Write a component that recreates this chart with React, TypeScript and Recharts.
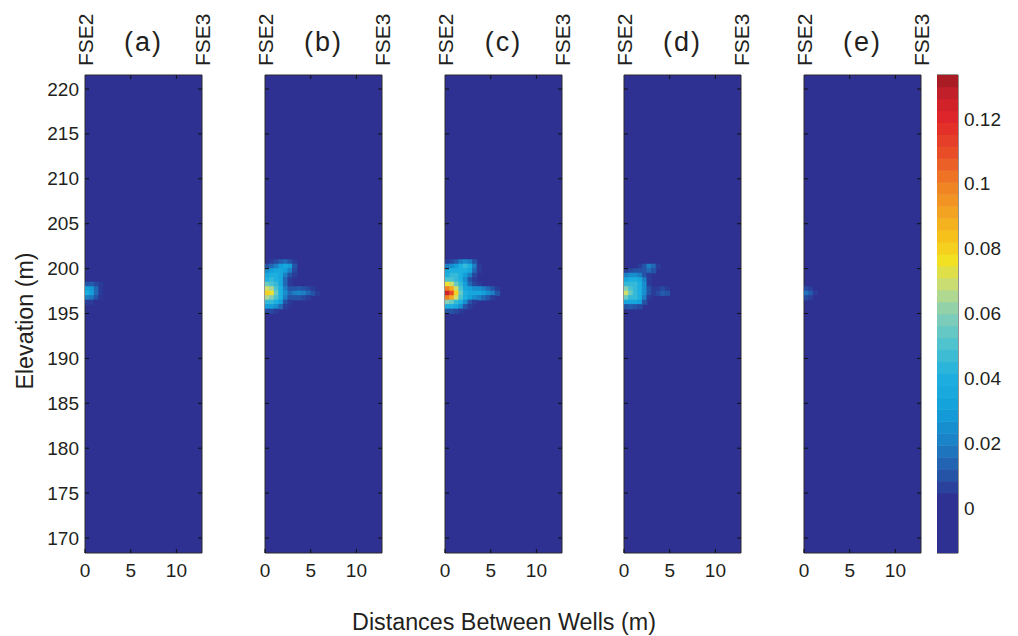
import React from 'react';
import { ScatterChart, Scatter, XAxis, YAxis, CartesianGrid, ReferenceLine } from 'recharts';

const panelNames = ['(a)', '(b)', '(c)', '(d)', '(e)'];
const wellNames = ['FSE2', 'FSE3'];
const elevationTicks = [170, 175, 180, 185, 190, 195, 200, 205, 210, 215, 220];
const distanceTicks = [0, 5, 10];
const colorTicks = [0, 0.02, 0.04, 0.06, 0.08, 0.1, 0.12];
const X_DOMAIN: [number, number] = [0, 12.8];
const Y_DOMAIN: [number, number] = [168.33, 221.56];
const C_DOMAIN: [number, number] = [-0.0138, 0.1336];
const CELL = 0.5; // grid spacing (m)

// each row: elevation of cell centre, values eastwards from x = 0.25 m in 0.5 m steps
type Row = { y: number; v: number[] };

const panelA: Row[] = [
  { y: 198.25, v: [0.01, 0.012, 0.008, 0.005] },
  { y: 197.75, v: [0.03, 0.028, 0.015, 0.005, 0.003] },
  { y: 197.25, v: [0.038, 0.03, 0.015, 0.005, 0.003] },
  { y: 196.75, v: [0.02, 0.018, 0.01, 0.004] },
  { y: 196.25, v: [0.005, 0.005, 0.003] },
];

const panelB: Row[] = [
  { y: 200.75, v: [0, 0.005, 0.008, 0.012, 0.015, 0.01, 0.005] },
  { y: 200.25, v: [0.01, 0.015, 0.02, 0.03, 0.035, 0.03, 0.01] },
  { y: 199.75, v: [0.025, 0.03, 0.035, 0.035, 0.03, 0.02, 0.008] },
  { y: 199.25, v: [0.035, 0.04, 0.04, 0.035, 0.02, 0.01, 0.005] },
  { y: 198.75, v: [0.04, 0.045, 0.04, 0.035, 0.015, 0.005] },
  { y: 198.25, v: [0.055, 0.05, 0.045, 0.035, 0.015, 0.005] },
  { y: 197.75, v: [0.07, 0.065, 0.05, 0.04, 0.02, 0.01, 0.01, 0.012, 0.01, 0.008, 0.005] },
  { y: 197.25, v: [0.08, 0.075, 0.055, 0.04, 0.025, 0.015, 0.02, 0.022, 0.02, 0.015, 0.01, 0.005] },
  { y: 196.75, v: [0.065, 0.06, 0.05, 0.04, 0.02, 0.01, 0.01, 0.01, 0.008, 0.005] },
  { y: 196.25, v: [0.045, 0.045, 0.04, 0.03, 0.01, 0.005] },
  { y: 195.75, v: [0.03, 0.03, 0.025, 0.015, 0.005] },
  { y: 195.25, v: [0.008, 0.008, 0.005] },
];

const panelC: Row[] = [
  { y: 200.75, v: [0.005, 0.008, 0.012, 0.02, 0.025, 0.02, 0.01] },
  { y: 200.25, v: [0.02, 0.025, 0.03, 0.04, 0.045, 0.04, 0.02, 0.005] },
  { y: 199.75, v: [0.035, 0.04, 0.04, 0.04, 0.04, 0.035, 0.015, 0.005] },
  { y: 199.25, v: [0.04, 0.045, 0.045, 0.04, 0.03, 0.02, 0.008] },
  { y: 198.75, v: [0.05, 0.05, 0.045, 0.04, 0.025, 0.01, 0.005] },
  { y: 198.25, v: [0.075, 0.07, 0.055, 0.045, 0.03, 0.015, 0.008, 0.005] },
  { y: 197.75, v: [0.1, 0.09, 0.07, 0.05, 0.035, 0.03, 0.025, 0.025, 0.02, 0.015, 0.01, 0.005] },
  { y: 197.25, v: [0.125, 0.11, 0.08, 0.055, 0.04, 0.035, 0.035, 0.035, 0.03, 0.025, 0.02, 0.01] },
  { y: 196.75, v: [0.1, 0.09, 0.07, 0.05, 0.04, 0.03, 0.025, 0.02, 0.015, 0.01, 0.005] },
  { y: 196.25, v: [0.06, 0.055, 0.045, 0.04, 0.025, 0.01, 0.005] },
  { y: 195.75, v: [0.04, 0.04, 0.035, 0.025, 0.01, 0.005] },
  { y: 195.25, v: [0.01, 0.01, 0.008, 0.005] },
];

const panelD: Row[] = [
  { y: 200.25, v: [0, 0, 0, 0.005, 0.01, 0.02, 0.015, 0.005] },
  { y: 199.75, v: [0.005, 0.008, 0.01, 0.01, 0.01, 0.015, 0.01] },
  { y: 199.25, v: [0.02, 0.025, 0.025, 0.02, 0.01, 0.005] },
  { y: 198.75, v: [0.035, 0.04, 0.04, 0.035, 0.02, 0.005] },
  { y: 198.25, v: [0.045, 0.045, 0.045, 0.04, 0.025, 0.005] },
  { y: 197.75, v: [0.06, 0.05, 0.045, 0.04, 0.025, 0.01, 0.005, 0.005, 0.008, 0.005] },
  { y: 197.25, v: [0.07, 0.055, 0.045, 0.04, 0.025, 0.01, 0.005, 0.008, 0.012, 0.01] },
  { y: 196.75, v: [0.055, 0.045, 0.045, 0.04, 0.02, 0.005] },
  { y: 196.25, v: [0.035, 0.035, 0.035, 0.03, 0.01] },
  { y: 195.75, v: [0.01, 0.012, 0.01, 0.008] },
];

const panelE: Row[] = [
  { y: 197.75, v: [0.008, 0.006, 0.003] },
  { y: 197.25, v: [0.017, 0.012, 0.005] },
  { y: 196.75, v: [0.008, 0.006, 0.003] },
];

const panels = [panelA, panelB, panelC, panelD, panelE];

// jet-like colormap as it appears in the printed colorbar
const cmapStops: [number, string][] = [
  [-0.0138, '#2e3192'],
  [0.003, '#2e3192'],
  [0.01, '#2553a6'],
  [0.02, '#1c7fc4'],
  [0.03, '#129fda'],
  [0.04, '#1dafdf'],
  [0.05, '#4bc2d0'],
  [0.06, '#86cfb5'],
  [0.068, '#c3dc80'],
  [0.076, '#f2e224'],
  [0.084, '#f7c01b'],
  [0.092, '#f3a023'],
  [0.1, '#ef7f23'],
  [0.11, '#e94b28'],
  [0.12, '#e1262b'],
  [0.127, '#c8202a'],
  [0.1336, '#9f1b21'],
];

const hexRgb = (h: string) => {
  const n = parseInt(h.slice(1), 16);
  return [(n >> 16) & 255, (n >> 8) & 255, n & 255];
};

function colorFor(v: number) {
  if (v <= cmapStops[0][0]) return cmapStops[0][1];
  for (let i = 1; i < cmapStops.length; i++) {
    const [v1, c1] = cmapStops[i];
    if (v <= v1) {
      const [v0, c0] = cmapStops[i - 1];
      const t = (v - v0) / (v1 - v0);
      const a = hexRgb(c0);
      const b = hexRgb(c1);
      const m = a.map((x, k) => Math.round(x + (b[k] - x) * t));
      return `rgb(${m[0]},${m[1]},${m[2]})`;
    }
  }
  return cmapStops[cmapStops.length - 1][1];
}

// layout
const FONT = 'Liberation Sans, Arial, Helvetica, sans-serif';
const INK = '#231f20';
const EDGE = '#2a2a2a';
const BG = '#2e3192';
const PANEL_LEFT = [85, 264.75, 444.5, 624.25, 804];
const PW = 117;
const PH = 478;
const TOP_H = 75;
const BOTTOM_H = 45;
const YW = 60;
const MR = 10;
const CB_LEFT = 937;
const CB_W = 21;
const N_BANDS = 40;

const cellW = (PW * CELL) / (X_DOMAIN[1] - X_DOMAIN[0]) + 0.7;
const cellH = (PH * CELL) / (Y_DOMAIN[1] - Y_DOMAIN[0]) + 0.7;

const toCells = (rows: Row[]) =>
  rows
    .flatMap((r) => r.v.map((v, i) => ({ x: (i + 0.5) * CELL, y: r.y, v })))
    .filter((d) => d.v > 0);

const CellShape = (p: any) => (
  <rect x={p.cx - cellW / 2} y={p.cy - cellH / 2} width={cellW} height={cellH} fill={colorFor(p.payload.v)} />
);

const txt = { fontFamily: FONT, fill: INK };

function Panel({ idx }: { idx: number }) {
  const cells = toCells(panels[idx]);
  const showY = idx === 0;
  return (
    <div style={{ position: 'absolute', left: PANEL_LEFT[idx] - YW, top: 0 }}>
      <ScatterChart
        width={YW + PW + 1 + MR}
        height={TOP_H + PH + BOTTOM_H}
        margin={{ top: 0, right: MR, bottom: 0, left: 0 }}
      >
        <CartesianGrid fill={BG} stroke="none" horizontal={false} vertical={false} />
        <XAxis
          xAxisId={0}
          type="number"
          dataKey="x"
          domain={X_DOMAIN}
          ticks={distanceTicks}
          allowDataOverflow
          interval={0}
          height={BOTTOM_H}
          tickSize={0}
          tickMargin={24}
          tickLine={false}
          axisLine={{ stroke: EDGE }}
          tick={(p: any) => (
            <g>
              <line x1={p.x} x2={p.x} y1={p.y - 24} y2={p.y - 28} stroke="#111" />
              <text x={p.x} y={p.y} textAnchor="middle" fontSize={19} {...txt}>
                {p.payload.value}
              </text>
            </g>
          )}
        />
        <XAxis
          xAxisId="top"
          orientation="top"
          type="number"
          dataKey="x"
          domain={X_DOMAIN}
          ticks={[0, 5, 10, 12.8]}
          allowDataOverflow
          interval={0}
          height={TOP_H}
          tickSize={0}
          tickMargin={9}
          tickLine={false}
          axisLine={{ stroke: EDGE }}
          tick={(p: any) => {
            const v = p.payload.value;
            if (v === 5 || v === 10)
              return <line x1={p.x} x2={p.x} y1={p.y + 9} y2={p.y + 13} stroke="#111" />;
            return (
              <text
                x={p.x}
                y={p.y}
                transform={`rotate(-90, ${p.x}, ${p.y})`}
                textAnchor="start"
                dominantBaseline="central"
                fontSize={21}
                {...txt}
              >
                {v === 0 ? wellNames[0] : wellNames[1]}
              </text>
            );
          }}
          label={{
            value: panelNames[idx],
            position: 'center',
            dy: 4,
            fontSize: 27,
            letterSpacing: 2,
            fontFamily: FONT,
            fill: INK,
          }}
        />
        <YAxis
          yAxisId={0}
          type="number"
          dataKey="y"
          domain={Y_DOMAIN}
          ticks={elevationTicks}
          allowDataOverflow
          interval={0}
          width={YW}
          tickSize={0}
          tickMargin={6}
          tickLine={false}
          axisLine={{ stroke: EDGE }}
          tick={(p: any) => (
            <g>
              <line x1={p.x + 6} x2={p.x + 10} y1={p.y} y2={p.y} stroke="#111" />
              {showY && (
                <text x={p.x} y={p.y} textAnchor="end" dominantBaseline="central" fontSize={19} {...txt}>
                  {p.payload.value}
                </text>
              )}
            </g>
          )}
        />
        <YAxis
          yAxisId="r"
          orientation="right"
          type="number"
          dataKey="y"
          domain={Y_DOMAIN}
          ticks={elevationTicks}
          allowDataOverflow
          interval={0}
          width={1}
          tickSize={0}
          tickMargin={0}
          tickLine={false}
          axisLine={{ stroke: EDGE }}
          tick={(p: any) => <line x1={p.x} x2={p.x - 4} y1={p.y} y2={p.y} stroke="#111" />}
        />
        <Scatter data={cells} xAxisId={0} yAxisId={0} isAnimationActive={false} shape={CellShape} />
        {/* same cells bound to the top/right axes so those axes get their ticks */}
        <Scatter data={cells} xAxisId="top" yAxisId="r" isAnimationActive={false} shape={() => <g />} />
      </ScatterChart>
    </div>
  );
}

const bandStep = (C_DOMAIN[1] - C_DOMAIN[0]) / N_BANDS;
const bands = Array.from({ length: N_BANDS }, (_, i) => {
  const c = C_DOMAIN[0] + (i + 0.5) * bandStep;
  return { x: 0.5, y: c, v: c };
});
const bandH = (PH * bandStep) / (C_DOMAIN[1] - C_DOMAIN[0]) + 0.5;

const BandShape = (p: any) => (
  <rect x={p.cx - CB_W / 2} y={p.cy - bandH / 2} width={CB_W} height={bandH} fill={colorFor(p.payload.v)} />
);

function ColorBar() {
  return (
    <div style={{ position: 'absolute', left: CB_LEFT, top: 0 }}>
      <ScatterChart width={CB_W + 60} height={636} margin={{ top: TOP_H, right: 0, bottom: 636 - TOP_H - PH, left: 0 }}>
        <XAxis type="number" dataKey="x" domain={[0, 1]} hide allowDataOverflow />
        <YAxis
          type="number"
          dataKey="y"
          orientation="right"
          domain={C_DOMAIN}
          ticks={colorTicks}
          allowDataOverflow
          interval={0}
          width={60}
          tickSize={0}
          tickMargin={6}
          tickLine={false}
          axisLine={false}
          tick={(p: any) => (
            <text x={p.x} y={p.y} textAnchor="start" dominantBaseline="central" fontSize={19} {...txt}>
              {p.payload.value}
            </text>
          )}
        />
        <Scatter data={bands} isAnimationActive={false} shape={BandShape} />
        {colorTicks.map((t) => (
          <ReferenceLine key={t} y={t} stroke="#1a1a1a" strokeWidth={1.2} />
        ))}
        <ReferenceLine x={0} stroke={EDGE} />
        <ReferenceLine x={1} stroke={EDGE} />
        <ReferenceLine y={C_DOMAIN[0]} stroke={EDGE} />
        <ReferenceLine y={C_DOMAIN[1]} stroke={EDGE} />
      </ScatterChart>
    </div>
  );
}

export default function App() {
  return (
    <div style={{ position: 'absolute', left: 0, top: 0, width: 1018, height: 636, background: '#fff', overflow: 'hidden' }}>
      {panels.map((_, i) => (
        <Panel key={i} idx={i} />
      ))}
      <ColorBar />
      <svg width={1018} height={636} style={{ position: 'absolute', left: 0, top: 0, pointerEvents: 'none' }}>
        <text x={33} y={321} transform="rotate(-90, 33, 321)" textAnchor="middle" fontSize={23.3} {...txt}>
          Elevation (m)
        </text>
        <text x={504} y={630} textAnchor="middle" fontSize={23.3} {...txt}>
          Distances Between Wells (m)
        </text>
      </svg>
    </div>
  );
}
